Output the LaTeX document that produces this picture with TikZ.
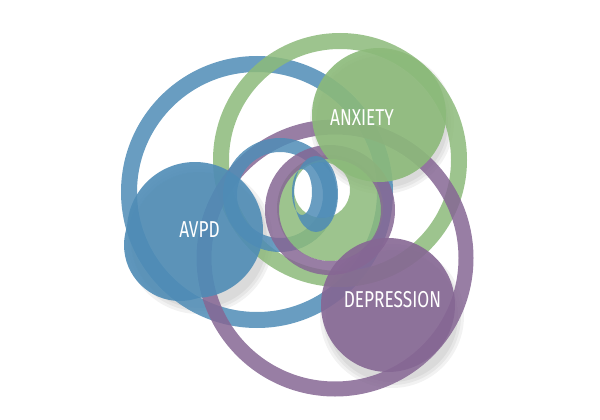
\documentclass[tikz,border=0pt]{standalone}
\usepackage{fontspec}
\setmainfont{Liberation Sans}
\newfontfamily\lblfont{Fira Sans}
\definecolor{cblue}{RGB}{79,140,182}
\definecolor{cgreen}{RGB}{140,186,122}
\definecolor{cpurp}{RGB}{134,103,148}
\tikzset{
  ring/.style={draw=#1, draw opacity=0.85, fill=none},
  band/.style={fill=#1, fill opacity=0.85, even odd rule},
  disc/.style={fill=#1, fill opacity=0.9},
  shade/.style={fill=black, fill opacity=0.05},
  lbl/.style={text=white, font=\lblfont\fontsize{23}{23}\selectfont, inner sep=0pt}
}
\begin{document}
\begin{tikzpicture}[x=1pt,y=-1pt]
\useasboundingbox (0,0) rectangle (600,420);
% soft shadows under discs
\foreach \d in {0,3,6}{
  \fill[shade] (199,240) circle ({68+\d});
  \fill[shade] (392,316) circle ({66+\d});
  \fill[shade] (382,122) circle ({66+\d});
}
% large rings
\draw[ring=cblue, line width=16pt] (257,192) circle (128);
\draw[ring=cgreen, line width=16pt] (340,160) circle (119);
\draw[ring=cpurp, line width=15pt] (335,258) circle (131);
% medium rings
\draw[ring=cblue, line width=14pt] (280,195) circle (50);
\fill[band=cgreen] (330,208) circle (53) (322,190) circle (28);
\draw[ring=cpurp, line width=14pt] (330,210) circle (58);
\fill[band=cblue] (316,194) ellipse (22 and 38) (302,192) ellipse (10 and 23);
% discs
\fill[disc=cblue] (195,230) circle (68) (180,245) circle (56);
\fill[disc=cgreen] (379,115) circle (67);
\fill[disc=cpurp] (388,305) circle (67);
% labels
\node[lbl] (avpd) at (199.5,229.5) {\scalebox{0.75}[1]{AVPD}};
\node[lbl] (anx) at (362,117.5) {\scalebox{0.75}[1]{ANXIETY}};
\node[lbl] (dep) at (392.5,300) {\scalebox{0.75}[1]{DEPRESSION}};
\end{tikzpicture}
\end{document}
